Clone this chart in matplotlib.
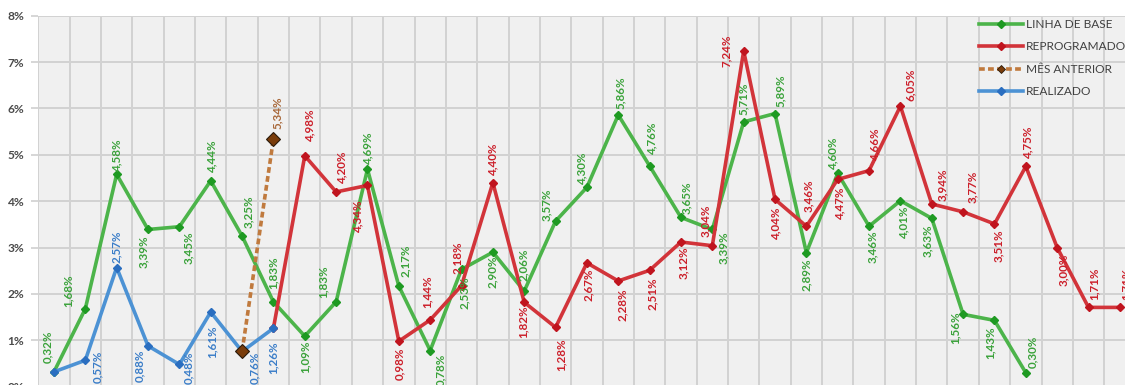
import matplotlib
matplotlib.use("Agg")
import matplotlib.pyplot as plt
from matplotlib.lines import Line2D
import numpy as np

# ---------------- data ----------------
series_names = ["LINHA DE BASE", "REPROGRAMADO", "MÊS ANTERIOR", "REALIZADO"]

linha_base_x = list(range(0, 32))
linha_base = [0.32, 1.68, 4.58, 3.39, 3.45, 4.44, 3.25, 1.83, 1.09, 1.83, 4.69, 2.17,
              0.78, 2.53, 2.90, 2.06, 3.57, 4.30, 5.86, 4.76, 3.65, 3.39, 5.71, 5.89,
              2.89, 4.60, 3.46, 4.01, 3.63, 1.56, 1.43, 0.30]

reprogramado_x = list(range(7, 35))
reprogramado = [1.26, 4.98, 4.20, 4.34, 0.98, 1.44, 2.18, 4.40, 1.82, 1.28, 2.67, 2.28,
                2.51, 3.12, 3.04, 7.24, 4.04, 3.46, 4.47, 4.66, 6.05, 3.94, 3.77, 3.51,
                4.75, 3.00, 1.71, 1.71]

mes_anterior_x = [6, 7]
mes_anterior = [0.76, 5.34]

realizado_x = list(range(0, 8))
realizado = [0.32, 0.57, 2.57, 0.88, 0.48, 1.61, 0.76, 1.26]

y_ticks = [0, 1, 2, 3, 4, 5, 6, 7, 8]

# ---------------- label placement (pixel offsets, styles only) ----------------
lb_off = [(-6, 25), (-17, 18), (0, 20), (-5, -22), (9, -21), (1, 25), (6, 24), (0, 29),
          (0, -21), (-13, 20), (0, 22), (7, 25), (10, -19), (3, -23), (-1, -20), (-1, 26),
          (-9, 16), (-5, 20), (2, 22), (2, 28), (5, 20), (11, -18), (0, 23), (5, 23),
          (0, -22), (-5, 21), (3, -20), (3, -21), (-4, -22), (-8, -13), (-4, -22), (7, 21)]
rp_off = [None, (5, 31), (6, 25), (-10, -30), (1, -22), (-3, 28), (-4, 28), (0, 24),
          (-1, -19), (6, -27), (1, -22), (4, -24), (3, -23), (2, -21), (-7, 25), (-17, 0),
          (1, -23), (2, 31), (2, -23), (6, 27), (10, 21), (11, 19), (9, 25), (4, -22),
          (2, 25), (6, -22), (6, 24), (6, 24)]
ma_off = [None, (4, 26)]
re_off = [None, (12, -7), (0, 21), (-8, -20), (9, -3), (1, -30), (13, -16), (0, -29)]

# ---------------- style ----------------
W, H, DPI = 1125, 385, 100
c_green, c_green_m, c_green_t = "#4CB44A", "#1E9A22", "#3AA23A"
c_red, c_red_m, c_red_t = "#D2343A", "#C0141E", "#CC1F2A"
c_brown, c_brown_m, c_brown_t = "#C07A3E", "#7A3C0A", "#A8683A"
c_blue, c_blue_m, c_blue_t = "#4C92D4", "#2A6EC0", "#3A7DC8"

plt.rcParams['font.family'] = ['Lato', 'DejaVu Sans']

fig = plt.figure(figsize=(W / DPI, H / DPI), dpi=DPI, facecolor="white")
x0 = 38.3
cell = 31.35
ax = fig.add_axes([x0 / W, (385 - 386.7) / H, (W - x0) / W, (386.7 - 15.7) / H])
ax.set_facecolor("#F0F0F0")
for s in ax.spines.values():
    s.set_visible(False)

ax.set_yticks(y_ticks)
ax.set_yticklabels([f"{t}%" for t in y_ticks], fontsize=8.6, fontweight="bold", color="#4A4A4A")
ax.tick_params(axis="y", length=5, width=1.2, color="#D0D0D0", pad=5)
ax.set_xticks(np.arange(-0.5, 40, 1.0))
ax.tick_params(axis="x", length=0, labelbottom=False)
ax.set_xlim(-0.5, (W - x0) / cell - 0.5)
ax.set_ylim(0, 8)
ax.grid(True, color="#D2D2D2", linewidth=1.4)
ax.set_axisbelow(True)

lw = 2.6
dash = (0, (1.6, 0.9))
l1, = ax.plot(linha_base_x, linha_base, color=c_green, lw=lw, marker="D", ms=4.5,
              mfc=c_green_m, mec=c_green_m, zorder=3, label=series_names[0])
l2, = ax.plot(reprogramado_x, reprogramado, color=c_red, lw=lw, marker="D", ms=4.5,
              mfc=c_red_m, mec=c_red_m, zorder=4, label=series_names[1])
l4, = ax.plot(realizado_x, realizado, color=c_blue, lw=lw, marker="D", ms=4.5,
              mfc=c_blue_m, mec=c_blue_m, zorder=5, label=series_names[3])
l3, = ax.plot(mes_anterior_x, mes_anterior, color=c_brown, lw=lw, ls=dash,
              marker="D", ms=7, mfc=c_brown_m, mec="#2A1A0A", mew=0.8, zorder=6,
              label=series_names[2])


def fmt(v):
    return f"{v:.2f}".replace(".", ",") + "%"


def labels(xs, ys, offs, color):
    for x, y, o in zip(xs, ys, offs):
        if o is None:
            continue
        ax.annotate(fmt(y), (x, y), xytext=o, textcoords="offset pixels",
                    ha="center", va="center", rotation=90, fontsize=8.4,
                    fontweight="bold", color=color, zorder=7, annotation_clip=False)


labels(linha_base_x, linha_base, lb_off, c_green_t)
labels(reprogramado_x, reprogramado, rp_off, c_red_t)
labels(mes_anterior_x, mes_anterior, ma_off, c_brown_t)
labels(realizado_x, realizado, re_off, c_blue_t)

handles = [
    Line2D([], [], color=c_green, lw=lw, marker="D", ms=4.5, mfc=c_green_m, mec=c_green_m),
    Line2D([], [], color=c_red, lw=lw, marker="D", ms=4.5, mfc=c_red_m, mec=c_red_m),
    Line2D([], [], color=c_brown, lw=lw, ls=dash, marker="D", ms=4.5,
           mfc=c_brown_m, mec="#2A1A0A", mew=0.6),
    Line2D([], [], color=c_blue, lw=lw, marker="D", ms=4.5, mfc=c_blue_m, mec=c_blue_m),
]
leg = fig.legend(handles, [series_names[0], series_names[1], series_names[2], series_names[3]],
                 loc="upper left", bbox_to_anchor=(979 / W, 1 - 19 / H),
                 bbox_transform=fig.transFigure, frameon=False, fontsize=8.6,
                 handlelength=3.7, handletextpad=0.25, labelspacing=0.95,
                 borderpad=0, borderaxespad=0, numpoints=1)
for t in leg.get_texts():
    t.set_color("#404040")

fig.savefig("out.png", dpi=DPI, facecolor="white")
